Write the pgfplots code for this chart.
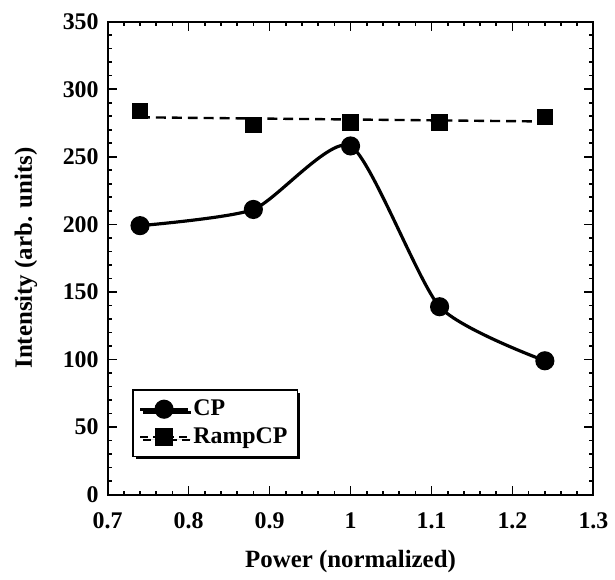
\documentclass[border={4pt 0pt 0pt 3.5pt}]{standalone}
\usepackage{fontspec}
\setmainfont{Liberation Serif}
\usepackage{pgfplots}
\pgfplotsset{compat=1.18}
\usetikzlibrary{shadows}
\begin{document}
\begin{tikzpicture}
\begin{axis}[
  width=244.2pt, height=237.7pt, scale only axis,
  xmin=0.7, xmax=1.3, ymin=0, ymax=350,
  xtick={0.7,0.8,...,1.3}, ytick={0,50,...,350},
  xticklabels={0.7,0.8,0.9,1,1.1,1.2,1.3},
  minor x tick num=4, minor y tick num=4,
  tick align=inside, tick pos=both,
  major tick length=4.5pt, minor tick length=2pt,
  every tick/.style={black, line width=0.8pt},
  axis line style={line width=1pt},
  /pgf/number format/assume math mode=true,
  ticklabel style={font=\fontsize{12}{14}\selectfont\bfseries},
  xticklabel style={yshift=-5.5pt},
  yticklabel style={/pgf/number format/fixed, xshift=-1pt},
  label style={font=\fontsize{12.5}{15}\selectfont\bfseries},
  xlabel={Power (normalized)}, ylabel={Intensity (arb. units)},
  xlabel style={yshift=-4pt}, ylabel style={yshift=6pt},
  legend style={at={(0.05,0.223)}, anchor=north west, line width=0.8pt,
    font=\fontsize{12}{14}\selectfont\bfseries, inner sep=3pt, row sep=0.5pt,
    drop shadow={shadow xshift=1.5pt, shadow yshift=-1.5pt, fill=black, opacity=1}, fill=white},
  legend cell align=left,
  legend image code/.code={\draw[mark repeat=2,mark phase=2,#1] plot coordinates {(0cm,0cm) (0.42cm,0cm) (0.84cm,0cm)};},
]
\addplot[black, line width=1.6pt, smooth, tension=0.38, mark=*, mark size=4pt, forget plot] coordinates {
 (0.74,199) (0.88,211) (1.0,258) (1.11,139) (1.24,99)
};
\addplot[black, line width=1.2pt, dash pattern=on 5pt off 3pt, no marks, forget plot] coordinates {
 (0.74,279.2) (1.24,276.1)
};
\addplot[black, only marks, mark=square*, mark size=3.9pt, forget plot] coordinates {
 (0.74,284) (0.88,273.5) (1.0,275.5) (1.11,275.5) (1.24,279.6)
};
\addlegendimage{black, line width=1.6pt, mark=*, mark size=4pt}
\addlegendentry{CP}
\addlegendimage{black, line width=1.2pt, dash pattern=on 4pt off 2.5pt, mark=square*, mark size=3.9pt, mark options={solid}}
\addlegendentry{RampCP}
\end{axis}
\end{tikzpicture}
\end{document}
